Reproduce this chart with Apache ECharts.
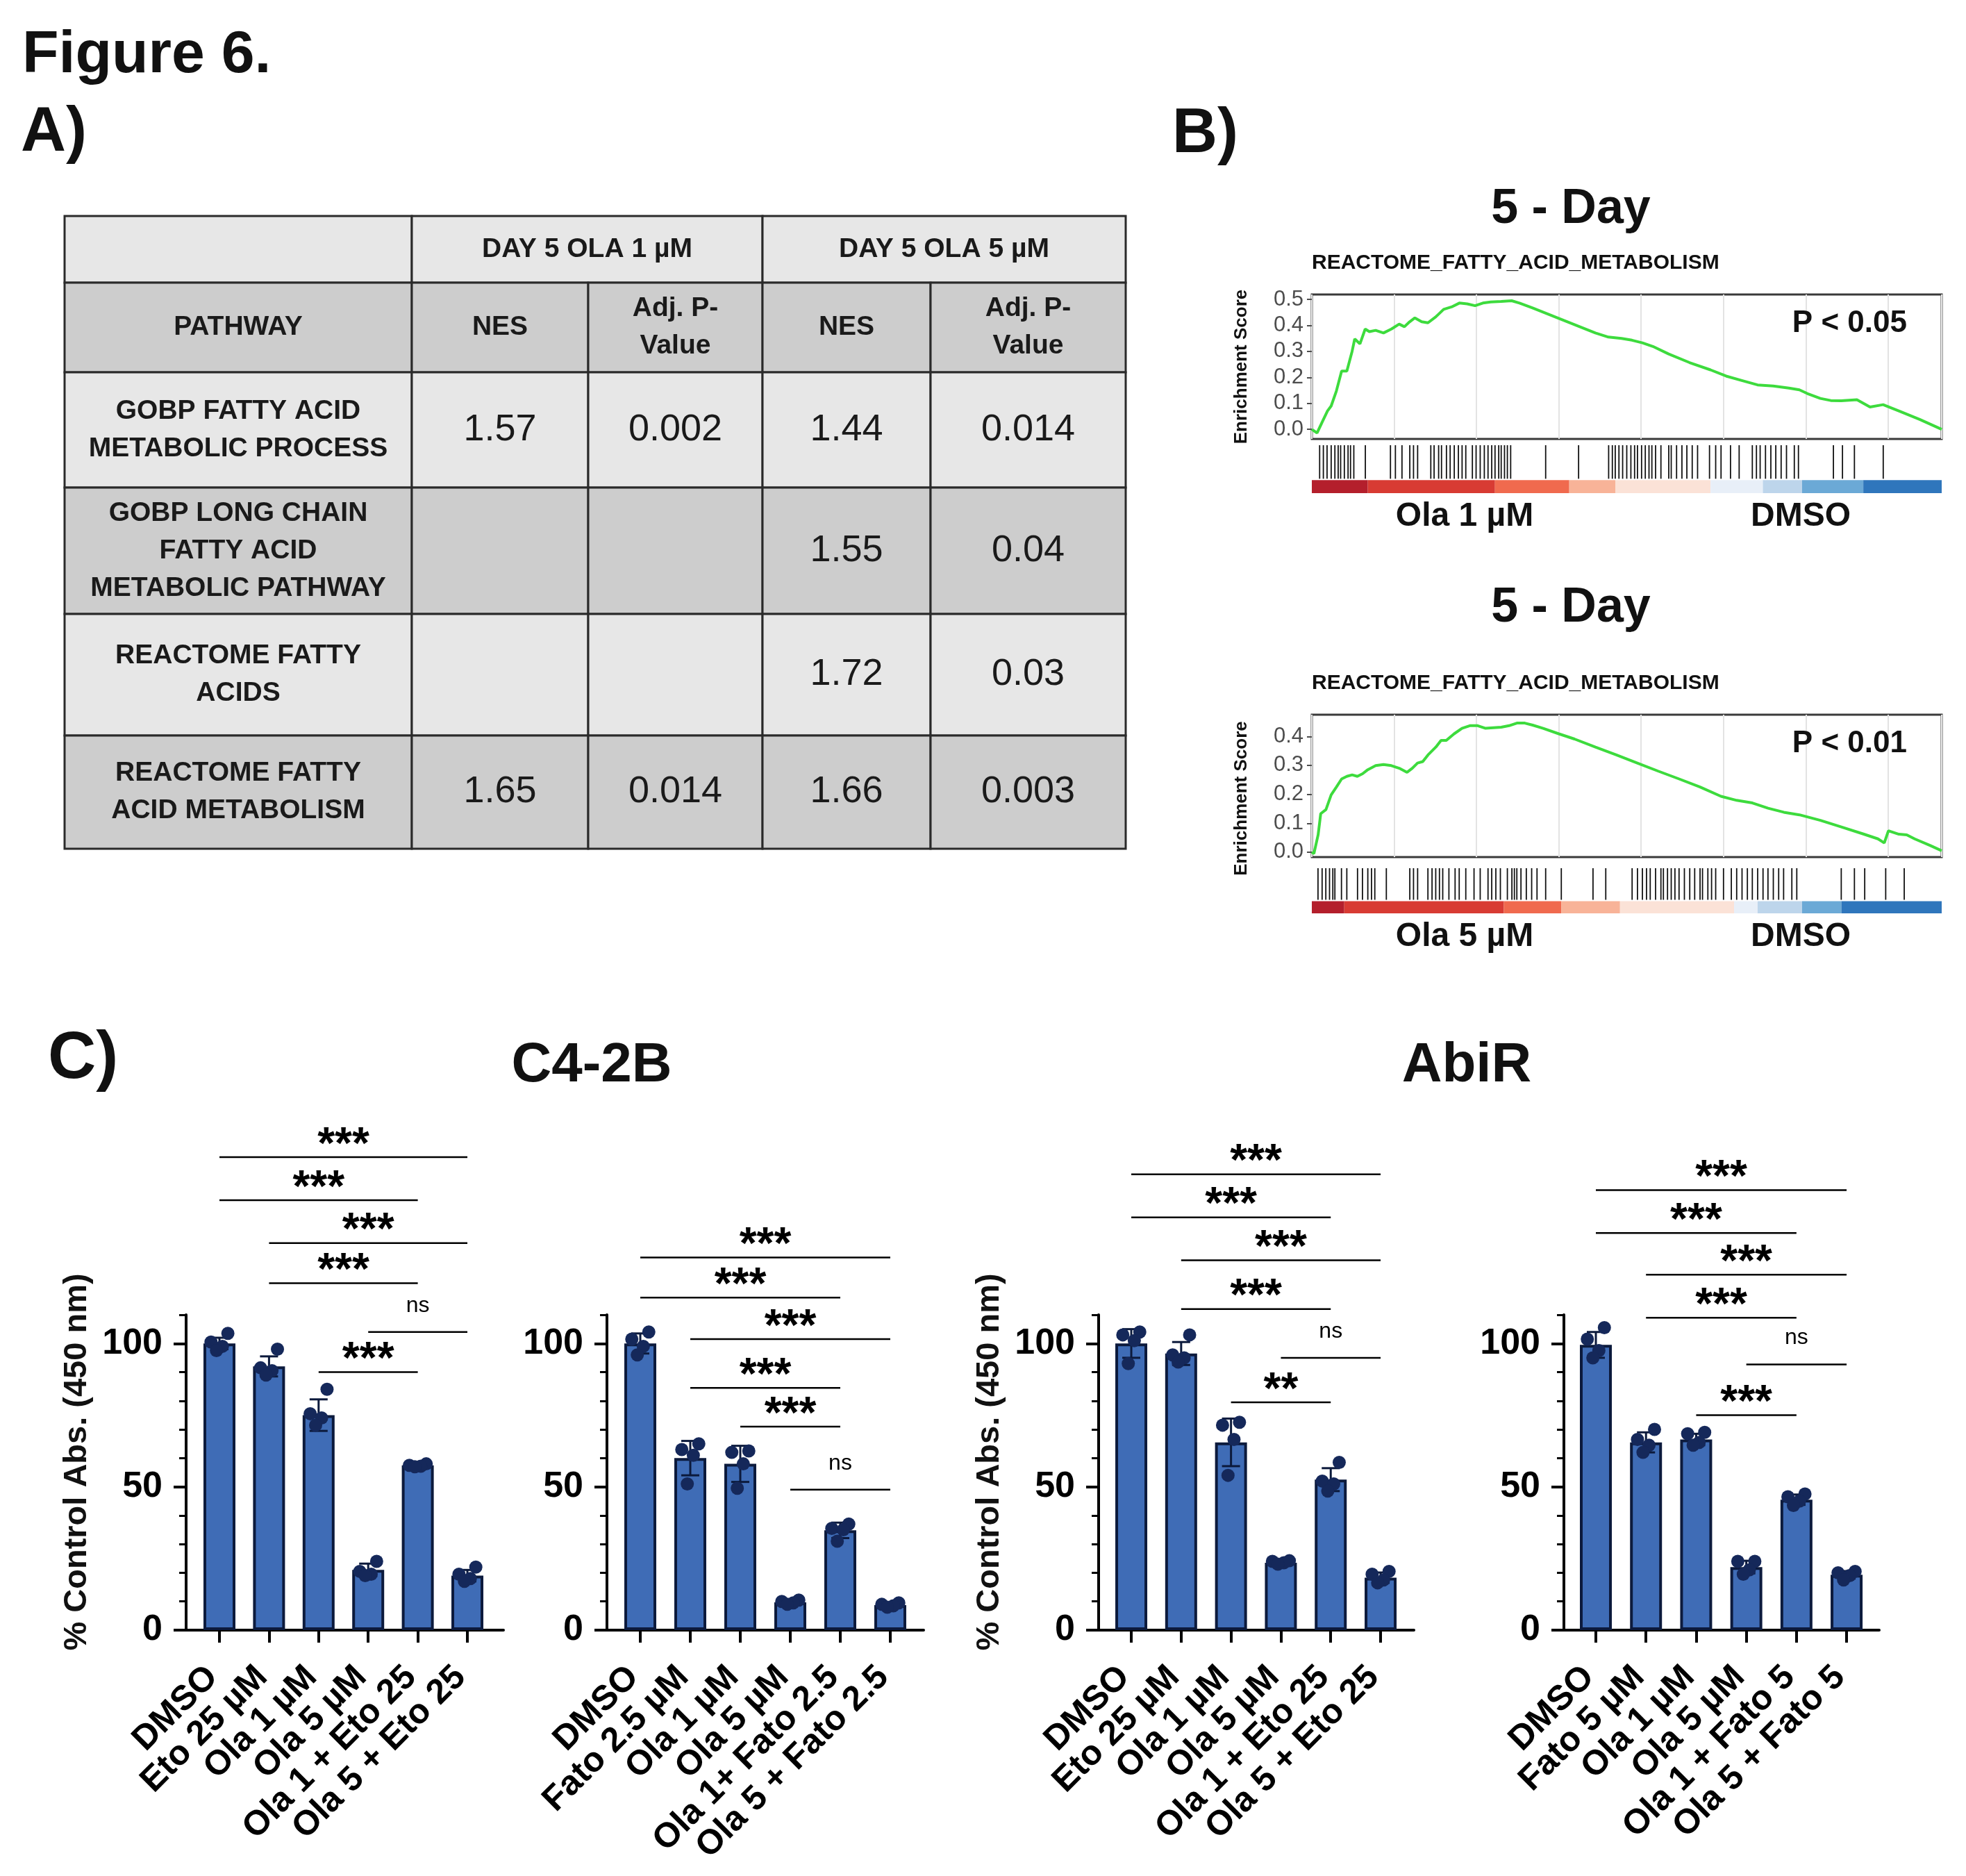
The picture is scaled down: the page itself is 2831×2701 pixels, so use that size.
<!DOCTYPE html>
<html lang="en">
<head>
  <meta charset="UTF-8">
  <title>Figure 6</title>
  <style>
    body { margin: 0; background-color: #fff; }
  </style>
  <script src="https://cdn.jsdelivr.net/npm/echarts@6.0.0/dist/echarts.min.js"></script>
</head>
<body>
<div id="chart" style="width: 2831px; height: 2701px;"></div>
<script>
  // ---- A) table ----
  const tableGroups = ['DAY 5 OLA 1 µM', 'DAY 5 OLA 5 µM']
  const tableColumns = ['PATHWAY', 'NES', 'Adj. P-\nValue', 'NES', 'Adj. P-\nValue']
  const pathways = [
    'GOBP FATTY ACID\nMETABOLIC PROCESS',
    'GOBP LONG CHAIN\nFATTY ACID\nMETABOLIC PATHWAY',
    'REACTOME FATTY\nACIDS',
    'REACTOME FATTY\nACID METABOLISM'
  ]
  const nesOla1 = ['1.57', '', '', '1.65']
  const padjOla1 = ['0.002', '', '', '0.014']
  const nesOla5 = ['1.44', '1.55', '1.72', '1.66']
  const padjOla5 = ['0.014', '0.04', '0.03', '0.003']

  // ---- B) GSEA running enrichment score, [rank, ES] ----
  const esOla1 = [[0, 0], [25, 0], [127, -0.014], [254, 0.029], [381, 0.071], [470, 0.09], [597, 0.148], [724, 0.224],
    [851, 0.224], [978, 0.3], [1042, 0.348], [1169, 0.329], [1296, 0.386], [1398, 0.376], [1550, 0.381], [1741, 0.371],
    [1932, 0.386], [2122, 0.405], [2249, 0.395], [2376, 0.414], [2503, 0.429], [2669, 0.414], [2821, 0.41], [3012, 0.433],
    [3202, 0.462], [3393, 0.471], [3584, 0.486], [3774, 0.483], [3965, 0.476], [4155, 0.486], [4346, 0.49], [4600, 0.492],
    [4854, 0.495], [5045, 0.486], [5363, 0.467], [5744, 0.443], [6125, 0.419], [6506, 0.395], [6888, 0.371], [7205, 0.355],
    [7523, 0.35], [7777, 0.343], [8031, 0.333], [8285, 0.319], [8667, 0.29], [9175, 0.257], [9683, 0.229], [10064, 0.205],
    [10446, 0.188], [10827, 0.171], [11208, 0.167], [11589, 0.159], [11843, 0.152], [12034, 0.138], [12352, 0.119],
    [12606, 0.111], [12860, 0.11], [13241, 0.114], [13559, 0.086], [13877, 0.095], [14258, 0.071], [14766, 0.038], [15300, 0]]
  const esOla5 = [[0, 0], [51, -0.005], [153, 0.06], [216, 0.133], [343, 0.147], [470, 0.198], [597, 0.225], [724, 0.253],
    [851, 0.262], [979, 0.267], [1106, 0.262], [1233, 0.271], [1360, 0.285], [1551, 0.299], [1741, 0.303], [1932, 0.299],
    [2123, 0.29], [2313, 0.276], [2440, 0.29], [2567, 0.308], [2695, 0.313], [2822, 0.336], [3012, 0.363], [3139, 0.386],
    [3266, 0.386], [3457, 0.409], [3648, 0.428], [3838, 0.437], [4029, 0.437], [4220, 0.428], [4410, 0.43], [4601, 0.432],
    [4792, 0.437], [4982, 0.446], [5173, 0.446], [5364, 0.439], [5618, 0.428], [5999, 0.409], [6380, 0.391], [6889, 0.363],
    [7397, 0.336], [7906, 0.308], [8414, 0.28], [8922, 0.253], [9431, 0.225], [9939, 0.193], [10321, 0.179], [10702, 0.17],
    [11083, 0.152], [11464, 0.138], [11846, 0.129], [12354, 0.11], [12863, 0.087], [13371, 0.064], [13752, 0.046],
    [13905, 0.032], [14006, 0.074], [14260, 0.062], [14451, 0.06], [14642, 0.046], [15023, 0.023], [15300, 0.005]]
  const hitsOla1 = [190, 280, 370, 470, 560, 640, 700, 790, 880, 940, 1020, 1300, 1910, 2030, 2190, 2380, 2470, 2570, 2890,
    2970, 3080, 3150, 3270, 3360, 3460, 3560, 3650, 3740, 3900, 3990, 4090, 4190, 4280, 4370, 4450, 4540, 4600, 4680, 4750,
    4830, 5680, 6480, 7210, 7300, 7370, 7460, 7550, 7650, 7750, 7840, 7910, 8010, 8100, 8190, 8260, 8350, 8480, 8670, 8730,
    8860, 8990, 9110, 9240, 9370, 9660, 9810, 9940, 10170, 10380, 10700, 10800, 10890, 11020, 11150, 11270, 11400, 11530,
    11720, 11820, 12670, 12890, 13180, 13880]
  const hitsOla5 = [150, 250, 340, 430, 510, 560, 720, 850, 1110, 1230, 1360, 1450, 1530, 1810, 2380, 2470, 2570, 2820, 2920,
    3010, 3100, 3180, 3330, 3480, 3580, 3740, 3940, 4090, 4280, 4370, 4470, 4580, 4750, 4860, 4920, 4980, 5080, 5210, 5340,
    5470, 5680, 6060, 6830, 7140, 7780, 7910, 8030, 8130, 8220, 8350, 8480, 8540, 8640, 8730, 8820, 8920, 9050, 9180, 9300,
    9430, 9490, 9620, 9710, 9810, 10000, 10190, 10320, 10450, 10580, 10700, 10830, 10960, 11080, 11210, 11340, 11460, 11660,
    11780, 12860, 13180, 13430, 13940, 14390]
  const rankBreaksOla1 = [0, 1360, 4449, 6253, 7372, 9685, 10956, 11909, 13396, 15300]
  const rankBreaksOla5 = [0, 788, 4665, 6063, 7486, 10257, 10829, 11909, 12863, 15300]
  const rankColors = ['#b41f2c', '#d83b33', '#f06a4e', '#f8b398', '#fbe2d7', '#e8eff8', '#bdd5eb', '#6ba9d6', '#2f76bc']

  // ---- C) viability, % control absorbance (450 nm) ----
  const labelsEto = ['DMSO', 'Eto 25 µM', 'Ola 1 µM', 'Ola 5 µM', 'Ola 1 + Eto 25', 'Ola 5 + Eto 25']
  const labelsFato25 = ['DMSO', 'Fato 2.5 µM', 'Ola 1 µM', 'Ola 5 µM', 'Ola 1+ Fato 2.5', 'Ola 5 + Fato 2.5']
  const labelsFato5 = ['DMSO', 'Fato 5 µM', 'Ola 1 µM', 'Ola 5 µM', 'Ola 1 + Fato 5', 'Ola 5 + Fato 5']

  const c42bEtoMean = [100, 92, 75, 21, 57.5, 19]
  const c42bEtoSd = [2, 3.5, 5.5, 2.2, 0.5, 2]
  const c42bEtoDots = [[103.5, 100.5, 99, 97.5], [98, 91.5, 90.5, 89], [84, 75.5, 74, 71.5], [24, 20.5, 19.5, 19], [58, 57.5, 57.2, 57], [22, 19.5, 18, 17]]
  const c42bEtoSig = [[0, 5, 165, '***'], [0, 4, 150, '***'], [1, 5, 135, '***'], [1, 4, 121, '***'], [3, 5, 104, 'ns'], [2, 4, 90, '***']]

  const c42bFatoMean = [100, 60, 58, 9.7, 34.8, 8.7]
  const c42bFatoSd = [3.5, 6, 6.3, 0.7, 2.7, 0.7]
  const c42bFatoDots = [[104, 101.5, 99, 96], [65, 63, 61, 51], [62.5, 62, 58, 49.5], [10.5, 10, 9.5, 9], [37, 35.5, 35, 31], [9.5, 9, 8.5, 8]]
  const c42bFatoSig = [[0, 5, 130, '***'], [0, 4, 116, '***'], [1, 5, 101.5, '***'], [1, 4, 84.5, '***'], [2, 4, 71, '***'], [3, 5, 49, 'ns']]

  const abirEtoMean = [100, 96.5, 65.5, 23.5, 52.5, 18.3]
  const abirEtoSd = [5, 4, 8.3, 0.6, 4, 1.8]
  const abirEtoDots = [[104, 103, 101, 93], [103, 96, 95, 93.5], [72.5, 71.5, 66.5, 54], [24.2, 24, 23.5, 23], [58.5, 52, 51, 48.5], [20.5, 19.5, 17.5, 16.5]]
  const abirEtoSig = [[0, 5, 159, '***'], [0, 4, 144, '***'], [1, 5, 129, '***'], [1, 4, 112, '***'], [3, 5, 95, 'ns'], [2, 4, 79.5, '**']]

  const abirFatoMean = [99.5, 65.5, 66.5, 22, 45.5, 19.3]
  const abirFatoSd = [4.5, 3.5, 2, 2.2, 1.8, 1.3]
  const abirFatoDots = [[105.5, 101.5, 97.5, 95], [70, 66.5, 64.5, 62], [69, 68.5, 65.5, 64.5], [24, 24, 21, 19.5], [47.5, 46.5, 45, 43.5], [20.5, 20, 19, 17.5]]
  const abirFatoSig = [[0, 5, 153.5, '***'], [0, 4, 138.5, '***'], [1, 5, 124, '***'], [1, 4, 109, '***'], [3, 5, 92.7, 'ns'], [2, 4, 75, '***']]

  // ---------------------------------------------------------------
  const FONT = "'Liberation Sans', Arial, sans-serif"
  const chart = echarts.init(document.getElementById('chart'))
  const grid = [], xAxis = [], yAxis = [], series = [], graphic = []

  function addText(str, x, y, font, align, rot) {
    graphic.push({
      type: 'text', x: x, y: y, rotation: rot || 0, silent: true, z: 100,
      style: {text: str, x: 0, y: 0, font: font, fill: '#111', textAlign: align || 'left', textVerticalAlign: 'middle'}
    })
  }

  // panel letters / headings
  addText('Figure 6.', 32, 80, 'bold 86px ' + FONT)
  addText('A)', 30, 192, 'bold 90px ' + FONT)
  addText('B)', 1688, 194, 'bold 90px ' + FONT)
  addText('C)', 69, 1526, 'bold 96px ' + FONT)
  addText('C4-2B', 852, 1535, 'bold 80px ' + FONT, 'center')
  addText('AbiR', 2112, 1535, 'bold 80px ' + FONT, 'center')

  // table cells
  const colX = [93, 593, 847, 1098, 1340, 1621]
  const rowY = [311, 407, 536, 702, 884, 1059, 1222]
  function cell(c0, c1, r, label, font) {
    graphic.push({
      type: 'rect', silent: true,
      shape: {x: colX[c0], y: rowY[r], width: colX[c1] - colX[c0], height: rowY[r + 1] - rowY[r]},
      style: {fill: r % 2 ? '#cdcdcd' : '#e7e7e7', stroke: '#2a2a2a', lineWidth: 3}
    })
    if (label) {
      graphic.push({
        type: 'text', silent: true, z: 10,
        style: {
          text: label, x: (colX[c0] + colX[c1]) / 2, y: (rowY[r] + rowY[r + 1]) / 2,
          textAlign: 'center', textVerticalAlign: 'middle', font: font, lineHeight: 54, fill: '#1a1a1a'
        }
      })
    }
  }
  const headFont = 'bold 39px ' + FONT
  const valFont = '54px ' + FONT
  cell(0, 1, 0, '', headFont)
  cell(1, 3, 0, tableGroups[0], headFont)
  cell(3, 5, 0, tableGroups[1], headFont)
  tableColumns.forEach((t, c) => cell(c, c + 1, 1, t, headFont))
  pathways.forEach((p, i) => {
    cell(0, 1, i + 2, p, headFont)
    cell(1, 2, i + 2, nesOla1[i], valFont)
    cell(2, 3, i + 2, padjOla1[i], valFont)
    cell(3, 4, i + 2, nesOla5[i], valFont)
    cell(4, 5, i + 2, padjOla5[i], valFont)
  })

  // ---- GSEA panels ----
  const gseaPanels = [
    {es: esOla1, hits: hitsOla1, breaks: rankBreaksOla1, top: 424, height: 208, yMin: -0.037, yMax: 0.519,
      ticks: [0, 0.1, 0.2, 0.3, 0.4, 0.5], stripTop: 641, stripHeight: 69, p: 'P < 0.05', group: 'Ola 1 µM', title: 302},
    {es: esOla5, hits: hitsOla5, breaks: rankBreaksOla5, top: 1029, height: 205, yMin: -0.017, yMax: 0.475,
      ticks: [0, 0.1, 0.2, 0.3, 0.4], stripTop: 1250, stripHeight: 65, p: 'P < 0.01', group: 'Ola 5 µM', title: 876}
  ]
  gseaPanels.forEach((g, k) => {
    const gi = grid.length
    grid.push({left: 1889, top: g.top, width: 907, height: g.height, show: true, borderColor: '#3a3a3a', borderWidth: 3})
    grid.push({left: 1889, top: g.stripTop, width: 907, height: g.stripHeight})
    xAxis.push({
      type: 'value', gridIndex: gi, min: 0, max: 15300, interval: 2000,
      axisLine: {show: false}, axisTick: {show: false}, axisLabel: {show: false},
      splitLine: {show: true, lineStyle: {color: '#e3e3e3', width: 2}}
    })
    xAxis.push({
      type: 'value', gridIndex: gi + 1, min: 0, max: 15300,
      axisLine: {show: false}, axisTick: {show: false}, axisLabel: {show: false}, splitLine: {show: false}
    })
    yAxis.push({
      type: 'value', gridIndex: gi, min: g.yMin, max: g.yMax,
      axisLine: {show: false, onZero: false},
      axisTick: {show: true, customValues: g.ticks, length: 7, lineStyle: {color: '#4d4d4d', width: 2}},
      axisLabel: {customValues: g.ticks, formatter: v => v.toFixed(1), color: '#4d4d4d', fontSize: 31, fontFamily: FONT,
        margin: 12, showMinLabel: true, showMaxLabel: true},
      splitLine: {show: false}
    })
    yAxis.push({
      type: 'value', gridIndex: gi + 1, min: 0, max: 1,
      axisLine: {show: false, onZero: false}, axisTick: {show: false}, axisLabel: {show: false}, splitLine: {show: false}
    })
    series.push({
      type: 'line', xAxisIndex: gi, yAxisIndex: gi, data: g.es, showSymbol: false,
      lineStyle: {color: '#3ddb3d', width: 4}, silent: true
    })
    series.push({
      type: 'custom', xAxisIndex: gi + 1, yAxisIndex: gi + 1,
      data: g.breaks.slice(0, -1).map((b, i) => [b, g.breaks[i + 1], i]),
      encode: {x: [0, 1]},
      renderItem: (params, api) => {
        const a = api.coord([api.value(0), 0.27])
        const b = api.coord([api.value(1), 0])
        return {type: 'rect', shape: {x: a[0], y: a[1], width: b[0] - a[0], height: b[1] - a[1]},
          style: {fill: rankColors[api.value(2)]}}
      }
    })
    series.push({
      type: 'custom', xAxisIndex: gi + 1, yAxisIndex: gi + 1,
      data: g.hits.map(h => [h, 1]), encode: {x: 0, y: 1},
      renderItem: (params, api) => {
        const a = api.coord([api.value(0), 1])
        const b = api.coord([api.value(0), 0.3])
        return {type: 'line', shape: {x1: a[0], y1: a[1], x2: b[0], y2: b[1]}, style: {stroke: '#111', lineWidth: 1.8}}
      }
    })
    addText('5 - Day', 2262, g.title, 'bold 70px ' + FONT, 'center')
    addText('REACTOME_FATTY_ACID_METABOLISM', 1889, g.top - 45, 'bold 30px ' + FONT)
    addText(g.p, 2746, g.top + 42, 'bold 44px ' + FONT, 'right')
    addText('Enrichment Score', 1788, g.top + g.height / 2 + (k ? 18 : 0), 'bold 26px ' + FONT, 'center', Math.PI / 2)
    addText(g.group, 2109, g.stripTop + g.stripHeight + 34, 'bold 48px ' + FONT, 'center')
    addText('DMSO', 2593, g.stripTop + g.stripHeight + 34, 'bold 48px ' + FONT, 'center')
  })

  // ---- bar panels ----
  const dotOffsets = [0.17, -0.17, 0.06, -0.06]
  const barPanels = [
    {labels: labelsEto, mean: c42bEtoMean, sd: c42bEtoSd, dots: c42bEtoDots, sig: c42bEtoSig, left: 268, width: 457, min: -0.672, max: 5.728, yTitle: 111},
    {labels: labelsFato25, mean: c42bFatoMean, sd: c42bFatoSd, dots: c42bFatoDots, sig: c42bFatoSig, left: 874, width: 456, min: -0.667, max: 5.667},
    {labels: labelsEto, mean: abirEtoMean, sd: abirEtoSd, dots: abirEtoDots, sig: abirEtoSig, left: 1582, width: 454, min: -0.655, max: 5.668, yTitle: 1425},
    {labels: labelsFato5, mean: abirFatoMean, sd: abirFatoSd, dots: abirFatoDots, sig: abirFatoSig, left: 2252, width: 454, min: -0.637, max: 5.65}
  ]
  const navy = '#0c1a3c'
  barPanels.forEach(p => {
    const gi = grid.length
    const yi = yAxis.length
    grid.push({left: p.left, top: 1893, width: p.width, height: 454})
    xAxis.push({
      type: 'value', gridIndex: gi, min: p.min, max: p.max,
      axisLine: {show: true, onZero: false, lineStyle: {color: '#000', width: 4}},
      axisTick: {show: true, customValues: [0, 1, 2, 3, 4, 5], length: 18, lineStyle: {color: '#000', width: 4}},
      axisLabel: {show: false},
      splitLine: {show: false}
    })
    yAxis.push({
      type: 'value', gridIndex: gi, min: 0, max: 110, position: 'left',
      axisLine: {show: true, onZero: false, lineStyle: {color: '#000', width: 4}},
      axisTick: {show: true, customValues: [0, 50, 100], length: 18, lineStyle: {color: '#000', width: 4}},
      axisLabel: {customValues: [0, 50, 100], showMinLabel: true, showMaxLabel: true, margin: 34, color: '#000',
        fontSize: 52, fontWeight: 'bold', fontFamily: FONT},
      splitLine: {show: false}
    })
    yAxis.push({
      type: 'value', gridIndex: gi, min: 0, max: 110, position: 'left', offset: 0,
      axisLine: {show: false, onZero: false},
      axisTick: {show: true, customValues: [10, 20, 30, 40, 60, 70, 80, 90, 110], length: 10, lineStyle: {color: '#000', width: 3}},
      axisLabel: {show: false}, splitLine: {show: false}
    })
    series.push({
      type: 'bar', xAxisIndex: gi, yAxisIndex: yi, barWidth: 46, z: 2,
      data: p.mean.map((m, i) => [i, m]),
      itemStyle: {color: '#3f6cb6', borderColor: navy, borderWidth: 4}
    })
    series.push({
      type: 'custom', xAxisIndex: gi, yAxisIndex: yi, z: 3,
      data: p.mean.map((m, i) => [i, m, p.sd[i]]), encode: {x: 0, y: 1},
      renderItem: (params, api) => {
        const x = api.value(0), m = api.value(1), s = api.value(2)
        const t = api.coord([x, m + s]), b = api.coord([x, m - s])
        const cap = 13, st = {stroke: navy, lineWidth: 3}
        return {type: 'group', children: [
          {type: 'line', shape: {x1: t[0], y1: t[1], x2: b[0], y2: b[1]}, style: st},
          {type: 'line', shape: {x1: t[0] - cap, y1: t[1], x2: t[0] + cap, y2: t[1]}, style: st},
          {type: 'line', shape: {x1: b[0] - cap, y1: b[1], x2: b[0] + cap, y2: b[1]}, style: st}
        ]}
      }
    })
    series.push({
      type: 'scatter', xAxisIndex: gi, yAxisIndex: yi, z: 4, symbolSize: 19,
      data: p.dots.flatMap((vals, i) => vals.map((v, j) => [i + dotOffsets[j], v])),
      itemStyle: {color: '#15285a', opacity: 1}
    })
    // rotated category labels under each tick
    series.push({
      type: 'custom', xAxisIndex: gi, yAxisIndex: yi, z: 5, clip: false, silent: true,
      data: p.labels.map((l, i) => [i, 0]), encode: {x: 0, y: 1},
      renderItem: (params, api) => {
        const c = api.coord([api.value(0), 0])
        return {type: 'text', x: c[0] - 10, y: c[1] + 60, rotation: Math.PI / 4,
          style: {text: p.labels[params.dataIndex], x: 0, y: 0, textAlign: 'right', textVerticalAlign: 'middle',
            fill: '#000', font: 'bold 50px ' + FONT}}
      }
    })
    series.push({
      type: 'custom', xAxisIndex: gi, yAxisIndex: yi, z: 5, clip: false,
      data: p.sig.map(s => [s[0], s[1], s[2]]), encode: {x: [0, 1], y: 2},
      renderItem: (params, api) => {
        const a = api.coord([api.value(0), api.value(2)])
        const b = api.coord([api.value(1), api.value(2)])
        const t = p.sig[params.dataIndex][3]
        const ns = t === 'ns'
        return {type: 'group', children: [
          {type: 'line', shape: {x1: a[0], y1: a[1], x2: b[0], y2: b[1]}, style: {stroke: '#000', lineWidth: 2.5}},
          {type: 'text', style: {
            text: t, x: (a[0] + b[0]) / 2, y: a[1] - (ns ? 38 : 16),
            textAlign: 'center', textVerticalAlign: 'middle', fill: '#000',
            font: ns ? '32px ' + FONT : 'bold 64px ' + FONT
          }}
        ]}
      }
    })
    if (p.yTitle) addText('% Control Abs. (450 nm)', p.yTitle, 2105, 'bold 47px ' + FONT, 'center', Math.PI / 2)
  })

  const option = {
    animation: false,
    backgroundColor: '#fff',
    grid: grid,
    xAxis: xAxis,
    yAxis: yAxis,
    series: series,
    graphic: graphic
  }
  chart.setOption(option)
</script>
</body>
</html>
